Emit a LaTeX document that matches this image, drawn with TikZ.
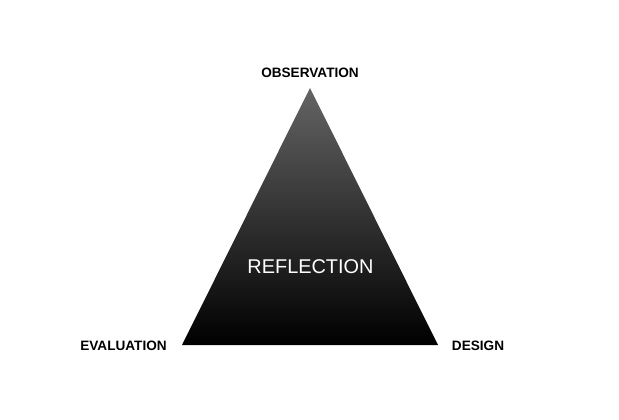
\documentclass[tikz,border=0pt]{standalone}
\usepackage{fontspec}
\setmainfont{Liberation Sans}
\definecolor{topgray}{RGB}{100,100,100}
\begin{document}
\begin{tikzpicture}[x=1pt,y=-1pt,
  corner/.style={font=\bfseries\fontsize{13.6}{15}\selectfont, text=black, inner sep=0pt},
  centre/.style={font=\fontsize{19.9}{22}\selectfont, text=white, inner sep=0pt}]
\useasboundingbox (0,0) rectangle (619,420);
\coordinate (apex) at (310,88);
\coordinate (bl) at (182,345);
\coordinate (br) at (438,345);
\shade[top color=topgray, bottom color=black] (apex) -- (br) -- (bl) -- cycle;
\node[corner] (obs) at (310,72.5) {OBSERVATION};
\node[corner] (eva) at (123.5,345.5) {EVALUATION};
\node[corner] (des) at (478,345.5) {DESIGN};
\node[centre] (ref) at (310.5,267) {REFLECTION};
\end{tikzpicture}
\end{document}
